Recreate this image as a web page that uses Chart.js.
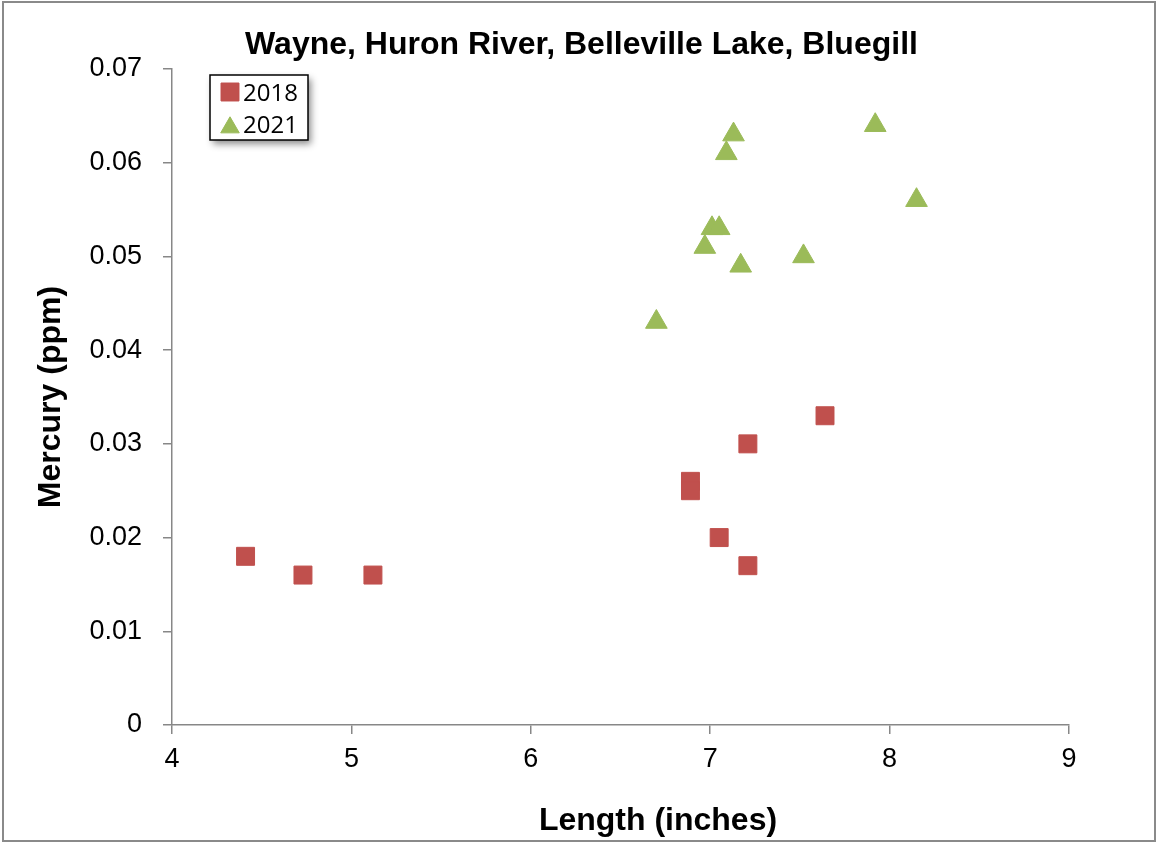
<!DOCTYPE html>
<html>
<head>
<meta charset="utf-8">
<title>Wayne, Huron River, Belleville Lake, Bluegill</title>
<script src="https://cdn.jsdelivr.net/npm/chart.js@4.4.1/dist/chart.umd.min.js"></script>
<style>
  html, body { margin: 0; padding: 0; background: #fff; }
  #wrap { position: relative; width: 1156px; height: 842px; }
</style>
</head>
<body>
<div id="wrap"><canvas id="chart"></canvas></div>
<script>
// Mercury vs. length, bluegill from Belleville Lake (two sample years)
const CHART_TITLE = 'Wayne, Huron River, Belleville Lake, Bluegill';
const X_TITLE = 'Length (inches)';
const Y_TITLE = 'Mercury (ppm)';

const seriesLabels = ['2018', '2021'];

const length2018 = [4.41, 4.73, 5.12, 6.89, 6.89, 7.05, 7.21, 7.21, 7.64];
const mercury2018 = [0.018, 0.016, 0.016, 0.026, 0.025, 0.020, 0.030, 0.017, 0.033];

const length2021 = [6.70, 6.97, 7.01, 7.05, 7.09, 7.13, 7.17, 7.52, 7.92, 8.15];
const mercury2021 = [0.043, 0.051, 0.053, 0.053, 0.061, 0.063, 0.049, 0.050, 0.064, 0.056];

const xTickLabels = ['4', '5', '6', '7', '8', '9'];
const yTickLabels = ['0', '0.01', '0.02', '0.03', '0.04', '0.05', '0.06', '0.07'];

const FONT = '"Liberation Sans", Arial, sans-serif';
const AXIS_COLOR = '#878787';
const RED = '#C0504D';
const GREEN = '#9BBB59';

Chart.defaults.font.family = FONT;
Chart.defaults.color = '#000';

function points(xs, ys) {
  return xs.map((x, i) => ({ x: x, y: ys[i] }));
}

// white page + thin grey frame round the whole picture
const framePlugin = {
  id: 'frame',
  beforeDraw(chart) {
    const ctx = chart.ctx;
    ctx.save();
    ctx.fillStyle = '#fff';
    ctx.fillRect(0, 0, chart.width, chart.height);
    ctx.strokeStyle = '#8a8a8a';
    ctx.lineWidth = 2;
    ctx.strokeRect(3, 2, 1152, 839);
    ctx.restore();
  }
};

// x axis title sits a bit right of the plot centre in the original
const xTitlePlugin = {
  id: 'xTitle',
  afterDraw(chart) {
    const ctx = chart.ctx;
    ctx.save();
    ctx.font = 'bold 32px ' + FONT;
    ctx.fillStyle = '#000';
    ctx.textAlign = 'center';
    ctx.textBaseline = 'alphabetic';
    ctx.fillText(X_TITLE, 658, 830);
    ctx.restore();
  }
};

// boxed legend with drop shadow inside the top-left of the plot
const insetLegendPlugin = {
  id: 'insetLegend',
  afterDraw(chart) {
    const ctx = chart.ctx;
    const box = { x: 210, y: 75, w: 98, h: 65 };
    const rows = [
      { markerY: 92, textY: 100.5, radius: 12.7 },
      { markerY: 127.5, textY: 132.5, radius: 10.7 },
    ];

    ctx.save();
    ctx.shadowColor = 'rgba(0,0,0,0.45)';
    ctx.shadowBlur = 7;
    ctx.shadowOffsetX = 3;
    ctx.shadowOffsetY = 4;
    ctx.fillStyle = '#fff';
    ctx.fillRect(box.x, box.y, box.w, box.h);
    ctx.restore();

    ctx.save();
    ctx.strokeStyle = '#000';
    ctx.lineWidth = 1.5;
    ctx.strokeRect(box.x, box.y, box.w, box.h);

    chart.data.datasets.forEach((ds, i) => {
      const row = rows[i];
      ctx.fillStyle = ds.backgroundColor;
      ctx.strokeStyle = ds.borderColor;
      ctx.lineWidth = 1;
      Chart.helpers.drawPoint(ctx, { pointStyle: ds.pointStyle, radius: row.radius, rotation: 0, borderWidth: 1 }, 230, row.markerY);
      ctx.fillStyle = '#000';
      ctx.font = '24px "Open Sans", sans-serif';
      ctx.textAlign = 'left';
      ctx.textBaseline = 'alphabetic';
      ctx.fillText(ds.label, 243, row.textY);
    });
    ctx.restore();
  }
};

new Chart(document.getElementById('chart'), {
  type: 'scatter',
  data: {
    datasets: [
      {
        label: seriesLabels[0],
        data: points(length2018, mercury2018),
        pointStyle: 'rect',
        pointRadius: 12.7,
        backgroundColor: RED,
        borderColor: RED,
        borderWidth: 1,
      },
      {
        label: seriesLabels[1],
        data: points(length2021, mercury2021),
        pointStyle: 'triangle',
        pointRadius: 12.5,
        backgroundColor: GREEN,
        borderColor: GREEN,
        borderWidth: 1,
      },
    ]
  },
  plugins: [framePlugin, insetLegendPlugin, xTitlePlugin],
  options: {
    responsive: true,
    maintainAspectRatio: false,
    animation: false,
    events: [],
    layout: { padding: { top: 0, right: 0, bottom: 0, left: 7 } },
    scales: {
      x: {
        type: 'linear',
        min: 4,
        max: 9,
        afterFit: scale => { scale.height = 117; },
        ticks: {
          stepSize: 1,
          color: '#000',
          font: { size: 27 },
          padding: 9,
          autoSkip: false,
          maxRotation: 0,
          callback: (v, i) => xTickLabels[i],
        },
        grid: { drawOnChartArea: false, drawTicks: true, tickLength: 9, color: AXIS_COLOR, lineWidth: 1.5 },
        border: { display: true, color: AXIS_COLOR, width: 1.5 },
        title: { display: false },
      },
      y: {
        type: 'linear',
        min: 0,
        max: 0.07,
        afterFit: scale => { scale.width = 165; },
        ticks: {
          stepSize: 0.01,
          color: '#000',
          font: { size: 27 },
          padding: 21,
          autoSkip: false,
          callback: (v, i) => yTickLabels[i],
        },
        grid: { drawOnChartArea: false, drawTicks: true, tickLength: 9, color: AXIS_COLOR, lineWidth: 1.5 },
        border: { display: true, color: AXIS_COLOR, width: 1.5 },
        title: {
          display: true,
          text: Y_TITLE,
          color: '#000',
          font: { size: 32, weight: 'bold' },
          padding: { top: 25, bottom: 0 },
        },
      },
      // empty right-hand strip, keeps the plot edge at 9 while the title stays centred on the page
      pad: {
        type: 'linear',
        position: 'right',
        display: true,
        afterFit: scale => { scale.width = 87; },
        grid: { display: false },
        border: { display: false },
        ticks: { display: false },
      },
    },
    plugins: {
      legend: { display: false },
      tooltip: { enabled: false },
      title: {
        display: true,
        text: CHART_TITLE,
        color: '#000',
        font: { size: 32, weight: 'bold' },
        padding: { top: 26, bottom: 4.6 },
      },
    },
  },
});
</script>
</body>
</html>
